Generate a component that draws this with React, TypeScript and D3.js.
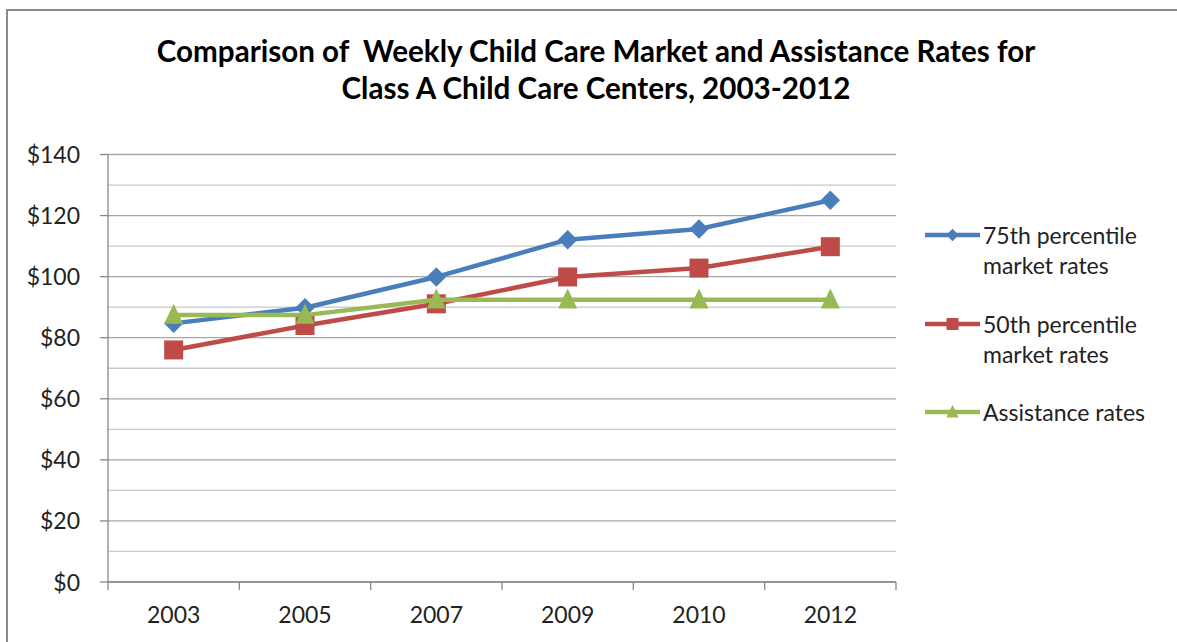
import React from "react";
import * as d3 from "d3";

const years = ["2003", "2005", "2007", "2009", "2010", "2012"];
const p75 = [84.7, 89.8, 99.9, 112.1, 115.6, 125];
const p50 = [76, 84, 91.1, 99.9, 102.8, 109.8];
const assist = [87.4, 87.4, 92.4, 92.4, 92.4, 92.4];
const yTicks = [0, 20, 40, 60, 80, 100, 120, 140];
const gridVals = d3.range(0, 141, 10);
const titleLines = [
  "Comparison of  Weekly Child Care Market and Assistance Rates for",
  "Class A Child Care Centers, 2003-2012",
];
const seriesNames = [
  ["75th percentile", "market rates"],
  ["50th percentile", "market rates"],
  ["Assistance rates"],
];

const W = 1177, H = 642;
const left = 108, right = 896, top = 154.5, bottom = 582;
const FONT = "Lato, 'Open Sans', sans-serif";

export default function App() {
  const x = d3.scaleBand().domain(years).range([left, right]);
  const y = d3.scaleLinear().domain([0, 140]).range([bottom, top]);
  const cx = (yr: string) => (x(yr) as number) + x.bandwidth() / 2;
  const line = d3.line<number>().x((_, i) => cx(years[i])).y((v) => y(v));

  const series = [
    { data: p75, color: "#4A7EBB", shape: "diamond" },
    { data: p50, color: "#BE4B48", shape: "square" },
    { data: assist, color: "#98B954", shape: "triangle" },
  ];

  const marker = (shape: string, px: number, py: number, color: string, s: number, key: any) => {
    if (shape === "diamond") {
      const sym = d3.symbol().type(d3.symbolDiamond2).size(s * s * 0.5)();
      return <path key={key} d={sym as string} transform={`translate(${px},${py})`} fill={color} />;
    }
    if (shape === "square") {
      return <rect key={key} x={px - s / 2} y={py - s / 2} width={s} height={s} fill={color} />;
    }
    const h = s;
    return (
      <path
        key={key}
        d={`M${px},${py - h * 0.6}L${px + h / 2},${py + h * 0.45}L${px - h / 2},${py + h * 0.45}Z`}
        fill={color}
      />
    );
  };

  const legendY = [235, 324, 412];

  return (
    <svg width={W} height={H} style={{ position: "absolute", left: 0, top: 0, background: "#fff" }} fontFamily={FONT}>
      <rect x={0} y={0} width={W} height={H} fill="#fff" />
      <path d={`M7,${H + 5}V10H${W + 5}`} fill="none" stroke="#898989" strokeWidth={2} />
      {titleLines.map((t, i) => (
        <text key={i} x={596} y={62 + i * 37} textAnchor="middle" fontSize={29.6} fontWeight="bold" fill="#000" style={{ whiteSpace: "pre" }}>
          {t}
        </text>
      ))}
      {gridVals.map((v) => (
        <line key={v} x1={left} x2={right} y1={y(v)} y2={y(v)} stroke={v % 20 === 0 ? "#a6a6a6" : "#c8c8c8"} strokeWidth={1.3} />
      ))}
      {yTicks.map((v) => (
        <g key={v}>
          <line x1={left - 8} x2={left} y1={y(v)} y2={y(v)} stroke="#888" strokeWidth={1.3} />
          <text x={80} y={y(v) + 8.5} textAnchor="end" fontSize={23} fill="#222">
            {"$" + v}
          </text>
        </g>
      ))}
      <line x1={left} x2={left} y1={top} y2={bottom} stroke="#888" strokeWidth={1.3} />
      <line x1={left} x2={right} y1={bottom} y2={bottom} stroke="#888" strokeWidth={1.5} />
      {years.map((yr, i) => (
        <line key={"t" + i} x1={x(yr) as number} x2={x(yr) as number} y1={bottom} y2={bottom + 8} stroke="#888" strokeWidth={1.3} />
      ))}
      <line x1={right} x2={right} y1={bottom} y2={bottom + 8} stroke="#888" strokeWidth={1.3} />
      {years.map((yr) => (
        <text key={yr} x={cx(yr)} y={623} textAnchor="middle" fontSize={23} fill="#222">
          {yr}
        </text>
      ))}
      {series.map((s, si) => (
        <g key={si}>
          <path d={line(s.data) as string} fill="none" stroke={s.color} strokeWidth={4.5} strokeLinejoin="round" />
          {s.data.map((v, i) => marker(s.shape, cx(years[i]), y(v), s.color, s.shape === "diamond" ? 22 : 19, i))}
        </g>
      ))}
      {series.map((s, si) => (
        <g key={"l" + si}>
          <line x1={925} x2={980} y1={legendY[si]} y2={legendY[si]} stroke={s.color} strokeWidth={4.5} />
          {marker(s.shape, 952.5, legendY[si], s.color, s.shape === "diamond" ? 14 : 12, "m")}
          {seriesNames[si].map((t, j) => (
            <text key={j} x={983} y={legendY[si] + 9 + j * 30} fontSize={23} fill="#222">
              {t}
            </text>
          ))}
        </g>
      ))}
    </svg>
  );
}
